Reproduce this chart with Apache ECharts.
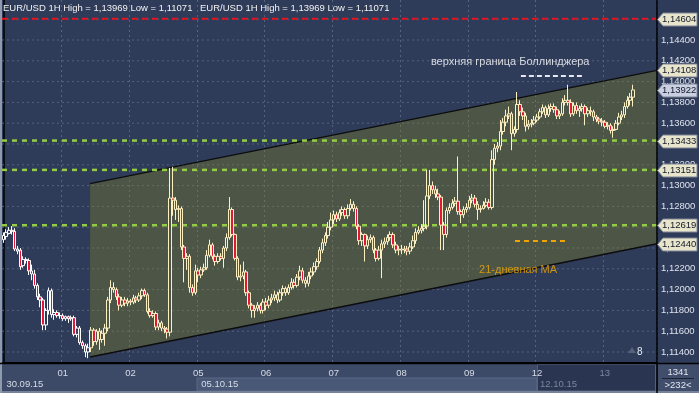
<!DOCTYPE html>
<html><head><meta charset="utf-8">
<script src="https://cdn.jsdelivr.net/npm/echarts@6/dist/echarts.min.js"></script>
<style>html,body{margin:0;padding:0;background:#2e3b59}#c{width:699px;height:393px}</style>
</head><body><div id="c"></div>
<script>
// ---- data ----
const slotCount = 232;
const barDays = ['30','01','02','05','06','07','08','09','12','13'];
const dayStartIdx = [0,21,45,69,93,117,141,165,189,213];
const dimDays = ['13'];
const weekStartIdx = [0,69,189];
const weekLabels = ['30.09.15','05.10.15','12.10.15'];
const dimWeeks = ['12.10.15'];

const openP = [
1.1248,1.1251,1.1254,1.1257,1.1256,1.1239,1.1238,1.1223,1.1229,1.1228,
1.1218,1.1215,1.1204,1.1193,1.1190,1.1166,1.1180,1.1199,1.1176,1.1178,
1.1175,1.1175,1.1172,1.1174,1.1172,1.1173,1.1157,1.1163,1.1149,1.1146,
1.1140,1.1144,1.1161,1.1150,1.1160,1.1152,1.1158,1.1163,1.1190,1.1202,
1.1200,1.1193,1.1185,1.1190,1.1187,1.1189,1.1188,1.1192,1.1190,1.1194,
1.1199,1.1195,1.1179,1.1175,1.1177,1.1164,1.1168,1.1163,1.1162,1.1159,
1.1288,1.1286,1.1277,1.1278,1.1241,1.1230,1.1232,1.1202,1.1197,1.1218,
1.1214,1.1219,1.1221,1.1233,1.1243,1.1232,1.1227,1.1232,1.1230,1.1240,
1.1250,1.1277,1.1253,1.1230,1.1212,1.1213,1.1217,1.1197,1.1185,1.1180,
1.1182,1.1185,1.1180,1.1188,1.1185,1.1190,1.1192,1.1195,1.1190,1.1197,
1.1201,1.1197,1.1202,1.1207,1.1204,1.1212,1.1218,1.1209,1.1206,1.1213,
1.1217,1.1222,1.1227,1.1238,1.1245,1.1252,1.1260,1.1267,1.1272,1.1268,
1.1274,1.1277,1.1271,1.1278,1.1282,1.1278,1.1261,1.1247,1.1253,1.1242,
1.1248,1.1250,1.1238,1.1230,1.1238,1.1244,1.1246,1.1250,1.1253,1.1243,
1.1238,1.1239,1.1238,1.1239,1.1237,1.1241,1.1247,1.1255,1.1257,1.1259,
1.1261,1.1290,1.1300,1.1296,1.1292,1.1289,1.1262,1.1253,1.1276,1.1279,
1.1283,1.1285,1.1275,1.1272,1.1277,1.1279,1.1286,1.1288,1.1282,1.1277,
1.1278,1.1281,1.1284,1.1279,1.1325,1.1336,1.1338,1.1352,1.1361,1.1367,
1.1369,1.1350,1.1354,1.1378,1.1371,1.1367,1.1357,1.1359,1.1360,1.1363,
1.1366,1.1371,1.1375,1.1368,1.1374,1.1376,1.1373,1.1367,1.1369,1.1380,
1.1382,1.1380,1.1369,1.1377,1.1372,1.1374,1.1376,1.1369,1.1372,1.1371,
1.1366,1.1364,1.1362,1.1361,1.1357,1.1358,1.1353,1.1354,1.1360,1.1366,
1.1368,1.1376,1.1382,1.1385];
const closeP = [
1.1252,1.1255,1.1257,1.1256,1.1239,1.1237,1.1222,1.1229,1.1228,1.1218,
1.1215,1.1204,1.1193,1.1190,1.1166,1.1180,1.1199,1.1176,1.1178,1.1175,
1.1175,1.1172,1.1174,1.1172,1.1173,1.1157,1.1163,1.1149,1.1146,1.1140,
1.1144,1.1161,1.1150,1.1160,1.1152,1.1158,1.1163,1.1190,1.1202,1.1200,
1.1193,1.1185,1.1190,1.1187,1.1189,1.1188,1.1192,1.1190,1.1194,1.1199,
1.1195,1.1179,1.1175,1.1177,1.1164,1.1168,1.1163,1.1162,1.1159,1.1288,
1.1286,1.1277,1.1278,1.1241,1.1230,1.1232,1.1202,1.1197,1.1218,1.1214,
1.1219,1.1221,1.1233,1.1243,1.1232,1.1227,1.1232,1.1230,1.1240,1.1250,
1.1277,1.1253,1.1230,1.1212,1.1213,1.1217,1.1197,1.1185,1.1180,1.1182,
1.1185,1.1180,1.1188,1.1185,1.1190,1.1192,1.1195,1.1190,1.1197,1.1201,
1.1197,1.1202,1.1207,1.1204,1.1212,1.1218,1.1209,1.1206,1.1213,1.1217,
1.1222,1.1227,1.1238,1.1245,1.1252,1.1260,1.1267,1.1272,1.1268,1.1274,
1.1277,1.1271,1.1278,1.1282,1.1278,1.1261,1.1247,1.1253,1.1242,1.1248,
1.1250,1.1238,1.1230,1.1238,1.1244,1.1246,1.1250,1.1253,1.1243,1.1238,
1.1239,1.1238,1.1239,1.1237,1.1241,1.1247,1.1255,1.1257,1.1259,1.1261,
1.1290,1.1300,1.1296,1.1292,1.1289,1.1262,1.1253,1.1276,1.1279,1.1283,
1.1285,1.1275,1.1272,1.1277,1.1279,1.1286,1.1288,1.1282,1.1277,1.1278,
1.1281,1.1284,1.1279,1.1325,1.1336,1.1338,1.1352,1.1361,1.1367,1.1369,
1.1350,1.1354,1.1378,1.1371,1.1367,1.1357,1.1359,1.1360,1.1363,1.1366,
1.1371,1.1375,1.1368,1.1374,1.1376,1.1373,1.1367,1.1369,1.1380,1.1382,
1.1380,1.1369,1.1377,1.1372,1.1374,1.1376,1.1369,1.1372,1.1371,1.1366,
1.1364,1.1362,1.1361,1.1357,1.1358,1.1353,1.1354,1.1360,1.1366,1.1368,
1.1376,1.1382,1.1385,1.1392];
const lowP = [
1.1245,1.1248,1.1253,1.1253,1.1237,1.1234,1.1219,1.1221,1.1225,1.1214,
1.1209,1.1201,1.1190,1.1183,1.1161,1.1161,1.1176,1.1173,1.1171,1.1173,
1.1172,1.1170,1.1170,1.1168,1.1170,1.1155,1.1154,1.1147,1.1143,1.1135,
1.1134,1.1140,1.1146,1.1147,1.1142,1.1149,1.1146,1.1160,1.1187,1.1197,
1.1190,1.1180,1.1183,1.1184,1.1184,1.1185,1.1186,1.1187,1.1188,1.1191,
1.1193,1.1177,1.1173,1.1173,1.1161,1.1161,1.1160,1.1158,1.1153,1.1155,
1.1271,1.1267,1.1265,1.1238,1.1207,1.1219,1.1197,1.1194,1.1195,1.1207,
1.1211,1.1217,1.1219,1.1231,1.1229,1.1223,1.1225,1.1228,1.1221,1.1237,
1.1248,1.1251,1.1228,1.1209,1.1208,1.1210,1.1194,1.1182,1.1173,1.1173,
1.1179,1.1177,1.1177,1.1180,1.1182,1.1187,1.1189,1.1187,1.1188,1.1194,
1.1194,1.1195,1.1200,1.1201,1.1202,1.1209,1.1206,1.1202,1.1203,1.1210,
1.1214,1.1219,1.1225,1.1235,1.1242,1.1249,1.1257,1.1263,1.1265,1.1266,
1.1271,1.1268,1.1268,1.1276,1.1275,1.1258,1.1243,1.1242,1.1227,1.1239,
1.1245,1.1235,1.1227,1.1228,1.1211,1.1240,1.1243,1.1247,1.1240,1.1235,
1.1233,1.1234,1.1235,1.1233,1.1234,1.1239,1.1244,1.1253,1.1254,1.1256,
1.1258,1.1287,1.1292,1.1288,1.1286,1.1238,1.1238,1.1250,1.1273,1.1277,
1.1280,1.1272,1.1264,1.1269,1.1274,1.1277,1.1283,1.1279,1.1267,1.1274,
1.1277,1.1279,1.1277,1.1277,1.1320,1.1332,1.1334,1.1349,1.1357,1.1364,
1.1334,1.1347,1.1351,1.1367,1.1363,1.1352,1.1354,1.1356,1.1358,1.1361,
1.1364,1.1369,1.1365,1.1366,1.1371,1.1370,1.1364,1.1364,1.1367,1.1377,
1.1377,1.1366,1.1367,1.1369,1.1366,1.1371,1.1358,1.1366,1.1367,1.1362,
1.1361,1.1359,1.1357,1.1355,1.1354,1.1350,1.1346,1.1353,1.1358,1.1363,
1.1365,1.1374,1.1377,1.1376];
const highP = [
1.1255,1.1258,1.1260,1.1261,1.1259,1.1242,1.1240,1.1232,1.1231,1.1230,
1.1224,1.1219,1.1206,1.1196,1.1192,1.1182,1.1202,1.1201,1.1181,1.1180,
1.1178,1.1177,1.1175,1.1175,1.1175,1.1175,1.1165,1.1165,1.1151,1.1148,
1.1148,1.1164,1.1163,1.1162,1.1163,1.1161,1.1167,1.1193,1.1209,1.1207,
1.1202,1.1196,1.1193,1.1193,1.1192,1.1191,1.1195,1.1194,1.1197,1.1201,
1.1201,1.1197,1.1182,1.1180,1.1179,1.1171,1.1170,1.1165,1.1164,1.1317,
1.1318,1.1289,1.1281,1.1280,1.1243,1.1235,1.1234,1.1205,1.1224,1.1221,
1.1222,1.1225,1.1238,1.1248,1.1245,1.1234,1.1235,1.1235,1.1242,1.1254,
1.1289,1.1279,1.1254,1.1232,1.1224,1.1227,1.1219,1.1199,1.1187,1.1185,
1.1188,1.1187,1.1191,1.1192,1.1194,1.1196,1.1199,1.1198,1.1200,1.1204,
1.1203,1.1205,1.1211,1.1210,1.1215,1.1223,1.1221,1.1212,1.1217,1.1221,
1.1226,1.1230,1.1241,1.1249,1.1255,1.1265,1.1274,1.1276,1.1275,1.1277,
1.1280,1.1279,1.1282,1.1287,1.1285,1.1280,1.1263,1.1255,1.1254,1.1252,
1.1253,1.1252,1.1240,1.1242,1.1248,1.1250,1.1253,1.1256,1.1255,1.1246,
1.1242,1.1243,1.1242,1.1242,1.1245,1.1252,1.1259,1.1261,1.1263,1.1286,
1.1315,1.1315,1.1304,1.1300,1.1297,1.1291,1.1265,1.1279,1.1283,1.1287,
1.1289,1.1328,1.1277,1.1280,1.1283,1.1290,1.1292,1.1291,1.1285,1.1281,
1.1285,1.1288,1.1287,1.1334,1.1340,1.1342,1.1363,1.1365,1.1373,1.1376,
1.1371,1.1357,1.1390,1.1382,1.1375,1.1370,1.1363,1.1364,1.1367,1.1369,
1.1374,1.1378,1.1377,1.1378,1.1379,1.1379,1.1376,1.1372,1.1384,1.1387,
1.1397,1.1383,1.1380,1.1380,1.1377,1.1379,1.1378,1.1375,1.1376,1.1373,
1.1368,1.1366,1.1365,1.1363,1.1361,1.1360,1.1357,1.1363,1.1370,1.1372,
1.1380,1.1386,1.1389,1.1397];

const gridValues = [1.114,1.116,1.118,1.120,1.122,1.124,1.126,1.128,1.130,1.132,1.134,1.136,1.138,1.140,1.142,1.144,1.146];
const redLevels = [1.14604];
const greenLevels = [1.13433, 1.13151, 1.12619];
const channelTop = [[30.7, 1.13019], [231.5, 1.14108]];
const channelBottom = [[30.7, 1.11352], [231.5, 1.12440]];
const tagValues = [1.14604, 1.14108, 1.13922, 1.13433, 1.13151, 1.12619, 1.12440];
const currentPrice = 1.13922;
const bollMarker = [[183.3, 1.14055], [205.0, 1.14055]];
const maMarker = [[181.2, 1.12468], [199.6, 1.12468]];
const bollText = {pos: [179.5, 1.1419], text: 'верхняя граница Боллинджера'};
const maText = {pos: [182.3, 1.1219], text: '21-дневная МА'};
const titleText = 'EUR/USD 1H High = 1,13969 Low = 1,11071';
const totalBars = '1341';
const visibleBars = '>232<';
const shiftMark = '8';

// ---- chart ----
const FONT = '"Liberation Sans", Arial, sans-serif';
const chart = echarts.init(document.getElementById('c'), null, {renderer: 'canvas', width: 699, height: 393});
const cats = [];
for (let i = 0; i < slotCount; i++) {
  let d = barDays[0];
  for (let k = 0; k < dayStartIdx.length; k++) if (i >= dayStartIdx[k]) d = barDays[k];
  cats.push(d);
}
const isDayStart = i => i > 0 && dayStartIdx.indexOf(i) >= 0;
const fmt = v => v.toFixed(5).replace('.', ',');
const candleData = openP.map((o, i) => {
  const item = {value: [o, closeP[i], lowP[i], highP[i]]};
  if (i < channelTop[0][0]) item.itemStyle = {borderColor: '#ffffff', borderColor0: '#ffffff'};
  return item;
});
const xLo = -0.5, xHi = slotCount - 0.5;
function hLine(v, style, z) {
  return {type: 'line', xAxisIndex: 2, yAxisIndex: 0, data: [[xLo, v], [xHi, v]], z: z, symbol: 'none', silent: true,
    lineStyle: style};
}
function segLine(pts, style, z) {
  return {type: 'line', xAxisIndex: 2, yAxisIndex: 0, data: pts, z: z, symbol: 'none', silent: true, lineStyle: style};
}

const series = [];
gridValues.forEach(v => series.push(hLine(v, {color: '#56637e', type: [2, 3], width: 1}, 1)));
series.push({type: 'custom', xAxisIndex: 2, yAxisIndex: 0, z: 2, silent: true, data: [channelTop[0]],
  renderItem: (params, api) => ({type: 'polygon',
    shape: {points: [api.coord(channelTop[0]), api.coord(channelTop[1]), api.coord(channelBottom[1]), api.coord(channelBottom[0])]},
    style: {fill: 'rgba(132,134,39,0.36)'}})});
series.push(segLine(channelTop, {color: '#0d0d0d', width: 1.5}, 3));
series.push(segLine(channelBottom, {color: '#0d0d0d', width: 1.5}, 3));
redLevels.forEach(v => series.push(hLine(v, {color: '#e3141e', type: [6, 4], width: 2}, 3)));
greenLevels.forEach(v => series.push(hLine(v, {color: '#94cc48', type: [5, 5], width: 2.5}, 3)));
series.push({type: 'candlestick', xAxisIndex: 0, yAxisIndex: 0, z: 5, barWidth: 3, data: candleData,
  itemStyle: {color: 'rgba(0,0,0,0)', color0: '#e3173a', borderColor: '#fdf0c0', borderColor0: '#fdf0c0', borderWidth: 1}});
series.push(segLine(bollMarker, {color: '#e4e6f4', type: [5, 3], width: 2}, 6));
series.push(segLine(maMarker, {color: '#f0a400', type: [5, 4], width: 2}, 6));
series.push({type: 'scatter', xAxisIndex: 2, yAxisIndex: 0, z: 6, silent: true, symbolSize: 1,
  itemStyle: {color: 'rgba(0,0,0,0)'},
  data: [
    {value: bollText.pos, label: {show: true, position: 'inside', formatter: bollText.text, color: '#ffffff', fontFamily: FONT, fontSize: 11}},
    {value: maText.pos, label: {show: true, position: 'inside', formatter: maText.text, color: '#f2a800', fontFamily: FONT, fontSize: 11}}
  ]});

const option = {
  animation: false,
  backgroundColor: '#2e3b59',
  grid: {left: 2, right: 42, top: 0, bottom: 30},
  xAxis: [
    {type: 'category', data: cats, boundaryGap: true,
     axisLine: {show: true, lineStyle: {color: '#000', width: 2}}, axisTick: {show: false},
     axisLabel: {interval: (i) => isDayStart(i), formatter: (v) => dimDays.indexOf(v) >= 0 ? '{d|' + v + '}' : v,
       color: '#d6dce8', fontFamily: FONT, fontSize: 9.5, margin: 5,
       rich: {d: {color: '#7b879e', fontFamily: FONT, fontSize: 9.5}}},
     splitLine: {show: true, interval: (i) => isDayStart(i), lineStyle: {color: '#56637e', type: [2, 3], width: 1}}},
    {type: 'category', data: cats, position: 'bottom', offset: 11, boundaryGap: true,
     axisLine: {show: false}, axisTick: {show: false}, splitLine: {show: false},
     axisLabel: {interval: (i) => weekStartIdx.indexOf(i) >= 0, align: 'left', margin: 5,
       formatter: (v, i) => { const t = weekLabels[weekStartIdx.indexOf(i)] || ''; return dimWeeks.indexOf(t) >= 0 ? '{d|' + t + '}' : t; },
       color: '#d6dce8', fontFamily: FONT, fontSize: 9.5, padding: [0, 0, 0, 3],
       rich: {d: {color: '#7b879e', fontFamily: FONT, fontSize: 9.5}}}},
    {type: 'value', min: xLo, max: xHi, show: false}
  ],
  yAxis: {type: 'value', position: 'right', min: 1.112942, max: 1.147846,
    axisLine: {show: true, lineStyle: {color: '#000', width: 1.5}}, axisTick: {show: false}, splitLine: {show: false},
    axisLabel: {customValues: gridValues, formatter: fmt, color: '#dde3ee', fontFamily: FONT, fontSize: 9.5, margin: 4}},
  series: series
};
chart.setOption(option);

const g = [];
g.push({type: 'rect', z: -1, shape: {x: 0, y: 364, width: 657, height: 29}, style: {fill: '#3d4a67'}});
g.push({type: 'rect', z: -1, shape: {x: 197, y: 378, width: 340, height: 13}, style: {fill: '#4a5877', stroke: '#5b6987', lineWidth: 1}});
g.push({type: 'rect', z: -1, shape: {x: 537.5, y: 364.5, width: 118, height: 26.5}, style: {fill: '#2a3551', stroke: '#56627c', lineWidth: 1}});
g.push({type: 'rect', z: -1, shape: {x: 658, y: 364, width: 41, height: 29}, style: {fill: '#414e6b'}});
g.push({type: 'rect', z: 60, shape: {x: 0, y: 391, width: 699, height: 2}, style: {fill: '#76829a'}});
g.push({type: 'rect', z: 60, shape: {x: 0, y: 0, width: 2, height: 393}, style: {fill: '#8f99ad'}});
g.push({type: 'line', z: 60, shape: {x1: 657, y1: 0, x2: 657, y2: 393}, style: {stroke: '#000', lineWidth: 1.5}});
g.push({type: 'line', z: 60, shape: {x1: 0, y1: 363.5, x2: 699, y2: 363.5}, style: {stroke: '#000', lineWidth: 1.5}});
g.push({type: 'text', z: 60, x: 678, y: 372, style: {text: totalBars, fill: '#e0e5ef', font: '9.5px ' + FONT, align: 'center', verticalAlign: 'middle'}});
g.push({type: 'line', z: 60, shape: {x1: 662, y1: 378.5, x2: 694, y2: 378.5}, style: {stroke: '#1c2333', lineWidth: 1}});
g.push({type: 'text', z: 60, x: 678, y: 385, style: {text: visibleBars, fill: '#e0e5ef', font: '9.5px ' + FONT, align: 'center', verticalAlign: 'middle'}});
g.push({type: 'polygon', z: 60, shape: {points: [[628, 353], [632, 347], [636, 353]]}, style: {fill: '#56627c'}});
g.push({type: 'text', z: 60, x: 637, y: 352, style: {text: shiftMark, fill: '#e6e9f0', font: '10px ' + FONT, verticalAlign: 'middle'}});
g.push({type: 'text', z: 60, x: 3, y: 8, style: {text: titleText, fill: '#f2f2f2', font: '9.5px ' + FONT, verticalAlign: 'middle'}});
g.push({type: 'text', z: 60, x: 200, y: 8, style: {text: titleText, fill: '#f2f2f2', font: '9.5px ' + FONT, verticalAlign: 'middle'}});
tagValues.forEach(v => {
  const y = Math.round(chart.convertToPixel({yAxisIndex: 0}, v)) + 0.5;
  const fill = v === currentPrice ? '#c8d0e2' : '#e8e5cd';
  g.push({type: 'polygon', z: 70, shape: {points: [[657.5, y], [663, y - 6.5], [697, y - 6.5], [697, y + 6.5], [663, y + 6.5]]},
    style: {fill: fill, stroke: '#7d8494', lineWidth: 1}});
  g.push({type: 'text', z: 71, x: 662, y: y, style: {text: fmt(v), fill: '#141926', font: '9.5px ' + FONT, verticalAlign: 'middle'}});
});
chart.setOption({graphic: g});
</script>
</body></html>
